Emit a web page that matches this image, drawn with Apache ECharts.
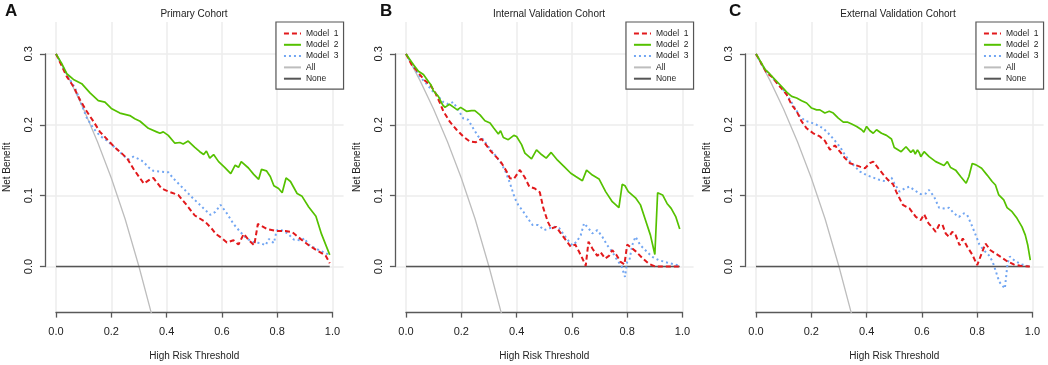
<!DOCTYPE html>
<html>
<head>
<meta charset="utf-8">
<script src="https://cdn.jsdelivr.net/npm/echarts@6/dist/echarts.min.js"></script>
<style>
  html, body { margin: 0; padding: 0; background: #fff; }
  #chart { width: 1048px; height: 365px; }
</style>
</head>
<body>
<div id="chart"></div>
<script>
// decision curves as [threshold, net benefit]
const allCurve = [[0, 0.3], [0.05, 0.263], [0.1, 0.222], [0.15, 0.176], [0.2, 0.125], [0.25, 0.067], [0.3, 0], [0.345, -0.066]]
const noneLine = [[0, 0], [0.99, 0]]

// A - primary cohort
const aModel1 = [[0, 0.3], [0.039, 0.268], [0.063, 0.254], [0.087, 0.235], [0.111, 0.219], [0.135, 0.205], [0.159, 0.19], [0.186, 0.179], [0.213, 0.168], [0.237, 0.16], [0.258, 0.152], [0.28, 0.138], [0.304, 0.1245], [0.318, 0.117], [0.34, 0.123], [0.352, 0.125], [0.382, 0.11], [0.412, 0.105], [0.442, 0.101], [0.472, 0.087], [0.502, 0.072], [0.54, 0.063], [0.564, 0.053], [0.578, 0.046], [0.6, 0.04], [0.618, 0.034], [0.642, 0.037], [0.66, 0.031], [0.679, 0.046], [0.7, 0.036], [0.717, 0.03], [0.73, 0.06], [0.763, 0.053], [0.8, 0.05], [0.83, 0.05], [0.854, 0.0486], [0.884, 0.039], [0.914, 0.03], [0.944, 0.0227], [0.975, 0.0156], [0.99, 0.0047]]
const aModel2 = [[0, 0.3], [0.02, 0.287], [0.039, 0.272], [0.063, 0.264], [0.093, 0.258], [0.123, 0.245], [0.153, 0.234], [0.177, 0.232], [0.2, 0.223], [0.231, 0.2165], [0.267, 0.213], [0.285, 0.2085], [0.304, 0.205], [0.334, 0.195], [0.364, 0.19], [0.376, 0.188], [0.388, 0.19], [0.406, 0.185], [0.43, 0.174], [0.448, 0.175], [0.46, 0.173], [0.478, 0.177], [0.502, 0.168], [0.52, 0.162], [0.534, 0.158], [0.544, 0.163], [0.556, 0.153], [0.57, 0.158], [0.588, 0.148], [0.61, 0.14], [0.632, 0.131], [0.648, 0.143], [0.66, 0.14], [0.67, 0.148], [0.696, 0.139], [0.715, 0.13], [0.733, 0.123], [0.743, 0.137], [0.761, 0.135], [0.775, 0.127], [0.788, 0.114], [0.805, 0.11], [0.818, 0.104], [0.832, 0.125], [0.848, 0.12], [0.872, 0.103], [0.89, 0.099], [0.914, 0.084], [0.94, 0.071], [0.96, 0.046], [0.99, 0.0165]]
const aModel3 = [[0, 0.3], [0.039, 0.271], [0.069, 0.252], [0.093, 0.228], [0.111, 0.21], [0.135, 0.195], [0.16, 0.184], [0.183, 0.178], [0.219, 0.166], [0.243, 0.157], [0.261, 0.151], [0.28, 0.155], [0.298, 0.152], [0.316, 0.148], [0.334, 0.14], [0.352, 0.135], [0.376, 0.134], [0.406, 0.133], [0.424, 0.1245], [0.448, 0.115], [0.472, 0.1057], [0.496, 0.096], [0.51, 0.091], [0.534, 0.082], [0.558, 0.073], [0.576, 0.077], [0.595, 0.087], [0.618, 0.075], [0.642, 0.06], [0.667, 0.0486], [0.691, 0.039], [0.715, 0.0345], [0.74, 0.033], [0.758, 0.03], [0.77, 0.039], [0.788, 0.033], [0.798, 0.051], [0.812, 0.052], [0.837, 0.047], [0.86, 0.038], [0.885, 0.037], [0.9, 0.04], [0.91, 0.032], [0.938, 0.0255], [0.974, 0.019], [0.99, 0.0165]]

// B - internal validation cohort
const bModel1 = [[0, 0.3], [0.02, 0.285], [0.039, 0.2764], [0.05, 0.2708], [0.069, 0.262], [0.087, 0.2566], [0.105, 0.246], [0.123, 0.2307], [0.135, 0.219], [0.159, 0.204], [0.183, 0.193], [0.207, 0.1835], [0.231, 0.1764], [0.253, 0.1755], [0.273, 0.18], [0.285, 0.174], [0.306, 0.163], [0.328, 0.154], [0.346, 0.1458], [0.364, 0.134], [0.376, 0.1245], [0.39, 0.1236], [0.412, 0.1363], [0.43, 0.1255], [0.446, 0.1127], [0.466, 0.11], [0.484, 0.1047], [0.497, 0.082], [0.513, 0.063], [0.525, 0.0538], [0.543, 0.056], [0.56, 0.0467], [0.578, 0.0373], [0.596, 0.028], [0.612, 0.031], [0.626, 0.0208], [0.638, 0.0113], [0.65, 0.001], [0.66, 0.035], [0.674, 0.0255], [0.692, 0.015], [0.704, 0.02], [0.72, 0.0113], [0.734, 0.015], [0.746, 0.023], [0.76, 0.017], [0.776, 0.0066], [0.79, 0.003], [0.8, 0.031], [0.818, 0.0255], [0.832, 0.021], [0.854, 0.0123], [0.878, 0.004], [0.902, 0], [0.99, 0]]
const bModel2 = [[0, 0.3], [0.0265, 0.285], [0.045, 0.2755], [0.063, 0.271], [0.081, 0.261], [0.09, 0.2566], [0.099, 0.248], [0.117, 0.24], [0.1325, 0.228], [0.141, 0.2245], [0.157, 0.229], [0.173, 0.2245], [0.1855, 0.221], [0.1976, 0.2245], [0.219, 0.219], [0.237, 0.22], [0.249, 0.22], [0.2675, 0.214], [0.2855, 0.2057], [0.304, 0.2024], [0.318, 0.195], [0.334, 0.187], [0.342, 0.1915], [0.352, 0.182], [0.37, 0.179], [0.39, 0.185], [0.4, 0.1835], [0.418, 0.172], [0.43, 0.16], [0.454, 0.152], [0.472, 0.1646], [0.49, 0.158], [0.507, 0.153], [0.525, 0.161], [0.548, 0.15], [0.572, 0.141], [0.596, 0.1316], [0.614, 0.127], [0.638, 0.121], [0.653, 0.136], [0.674, 0.129], [0.698, 0.1236], [0.722, 0.1057], [0.746, 0.0915], [0.77, 0.083], [0.782, 0.116], [0.792, 0.114], [0.804, 0.1057], [0.83, 0.097], [0.848, 0.087], [0.866, 0.0656], [0.884, 0.0443], [0.9, 0.017], [0.91, 0.104], [0.928, 0.101], [0.944, 0.089], [0.959, 0.082], [0.976, 0.07], [0.99, 0.0528]]
const bModel3 = [[0, 0.3], [0.0265, 0.2825], [0.05, 0.268], [0.075, 0.2575], [0.099, 0.246], [0.117, 0.24], [0.135, 0.232], [0.153, 0.229], [0.171, 0.232], [0.189, 0.221], [0.207, 0.209], [0.225, 0.207], [0.243, 0.195], [0.2615, 0.1835], [0.28, 0.179], [0.298, 0.169], [0.322, 0.1575], [0.34, 0.148], [0.358, 0.136], [0.376, 0.1175], [0.394, 0.096], [0.406, 0.0868], [0.424, 0.0774], [0.442, 0.067], [0.458, 0.0585], [0.478, 0.0585], [0.5, 0.0514], [0.519, 0.054], [0.536, 0.056], [0.5545, 0.054], [0.572, 0.0443], [0.59, 0.035], [0.602, 0.03], [0.617, 0.035], [0.632, 0.0443], [0.644, 0.061], [0.66, 0.054], [0.674, 0.0467], [0.692, 0.0514], [0.71, 0.042], [0.728, 0.03], [0.746, 0.0208], [0.764, 0.009], [0.78, 0], [0.792, -0.0146], [0.8, 0.0066], [0.808, 0.009], [0.818, 0.03], [0.83, 0.042], [0.848, 0.03], [0.866, 0.023], [0.89, 0.0137], [0.914, 0.009], [0.944, 0.0057], [0.99, 0.001]]

// C - external validation cohort
const cModel1 = [[0, 0.3], [0.02, 0.286], [0.039, 0.273], [0.057, 0.268], [0.075, 0.259], [0.093, 0.251], [0.111, 0.2425], [0.129, 0.228], [0.147, 0.219], [0.165, 0.2047], [0.183, 0.195], [0.207, 0.188], [0.231, 0.1835], [0.249, 0.1774], [0.2675, 0.1646], [0.2855, 0.1708], [0.3036, 0.162], [0.3217, 0.153], [0.34, 0.1458], [0.358, 0.1434], [0.376, 0.141], [0.394, 0.1387], [0.412, 0.1458], [0.424, 0.148], [0.442, 0.1387], [0.46, 0.13], [0.478, 0.122], [0.496, 0.116], [0.507, 0.1057], [0.531, 0.087], [0.555, 0.082], [0.578, 0.07], [0.596, 0.0656], [0.608, 0.0736], [0.624, 0.061], [0.64, 0.054], [0.65, 0.049], [0.662, 0.0585], [0.674, 0.0594], [0.686, 0.0467], [0.698, 0.042], [0.71, 0.049], [0.722, 0.0443], [0.736, 0.03], [0.748, 0.0396], [0.764, 0.0278], [0.782, 0.017], [0.8, 0.002], [0.816, 0.0184], [0.83, 0.0325], [0.848, 0.023], [0.866, 0.0184], [0.89, 0.0123], [0.908, 0.0075], [0.932, 0.003], [0.956, 0.001], [0.99, 0]]
const cModel2 = [[0, 0.3], [0.02, 0.287], [0.0325, 0.278], [0.05, 0.2717], [0.0687, 0.2637], [0.0928, 0.254], [0.111, 0.246], [0.129, 0.24], [0.147, 0.2377], [0.165, 0.234], [0.183, 0.2307], [0.201, 0.2236], [0.219, 0.221], [0.231, 0.221], [0.249, 0.2165], [0.265, 0.219], [0.2795, 0.2165], [0.2976, 0.2094], [0.3157, 0.2038], [0.33, 0.2038], [0.346, 0.201], [0.364, 0.1976], [0.382, 0.193], [0.39, 0.1896], [0.4, 0.1976], [0.412, 0.1915], [0.424, 0.188], [0.436, 0.193], [0.454, 0.188], [0.472, 0.185], [0.49, 0.18], [0.5, 0.168], [0.525, 0.162], [0.5425, 0.169], [0.56, 0.161], [0.569, 0.1646], [0.576, 0.1585], [0.584, 0.1646], [0.59, 0.161], [0.596, 0.155], [0.608, 0.162], [0.626, 0.155], [0.65, 0.148], [0.68, 0.1425], [0.692, 0.148], [0.704, 0.1396], [0.722, 0.136], [0.74, 0.127], [0.76, 0.1175], [0.77, 0.127], [0.782, 0.1453], [0.796, 0.1434], [0.816, 0.1387], [0.836, 0.129], [0.854, 0.12], [0.866, 0.115], [0.878, 0.101], [0.896, 0.094], [0.908, 0.083], [0.926, 0.0774], [0.944, 0.068], [0.962, 0.056], [0.974, 0.0443], [0.983, 0.03], [0.992, 0.009]]
const cModel3 = [[0, 0.3], [0.02, 0.285], [0.039, 0.2755], [0.063, 0.265], [0.087, 0.254], [0.105, 0.247], [0.123, 0.2354], [0.141, 0.2236], [0.159, 0.2118], [0.177, 0.2057], [0.195, 0.2038], [0.219, 0.2], [0.243, 0.195], [0.2615, 0.188], [0.28, 0.18], [0.3036, 0.169], [0.3217, 0.1575], [0.34, 0.148], [0.358, 0.141], [0.376, 0.134], [0.4, 0.129], [0.424, 0.1255], [0.448, 0.122], [0.472, 0.12], [0.49, 0.1255], [0.5, 0.1175], [0.519, 0.1057], [0.537, 0.11], [0.555, 0.1127], [0.572, 0.108], [0.596, 0.102], [0.614, 0.103], [0.626, 0.108], [0.644, 0.0986], [0.662, 0.083], [0.68, 0.082], [0.698, 0.083], [0.716, 0.075], [0.734, 0.07], [0.752, 0.075], [0.764, 0.0726], [0.78, 0.0585], [0.794, 0.045], [0.808, 0.031], [0.824, 0.023], [0.842, 0.016], [0.856, 0.0066], [0.866, -0.0052], [0.88, -0.0217], [0.9, -0.031], [0.91, 0.005], [0.918, 0.014], [0.938, 0.0075], [0.962, 0.003], [0.99, 0]]

const xTicks = [0, 0.2, 0.4, 0.6, 0.8, 1.0]
const yTicks = [0, 0.1, 0.2, 0.3]
const panelTitles = ['Primary Cohort', 'Internal Validation Cohort', 'External Validation Cohort']
const panelLetters = ['A', 'B', 'C']
const seriesNames = ['Model  1', 'Model  2', 'Model  3', 'All', 'None']

const panelData = [
  [aModel1, aModel2, aModel3],
  [bModel1, bModel2, bModel3],
  [cModel1, cModel2, cModel3]
]

const FONT = '"Liberation Sans", Arial, Helvetica, sans-serif'
const AXIS_COLOR = '#595959'

// pixel layout (plot region spans x -0.04..1.04, y -0.065..0.345 like R)
const zeroX = [56, 406, 756]
const unitX = 276.5
const regionTop = 22
const regionH = 290.6
const xMin = -0.04, xMax = 1.04, yMin = -0.065, yMax = 0.345
const regionW = unitX * (xMax - xMin)
const yPx = v => regionTop + regionH * (yMax - v) / (yMax - yMin)
const titleX = [194, 549, 898]
const letterX = [5, 380, 729]

const styles = [
  { color: '#e2191c', width: 2, type: [5, 3] },
  { color: '#55c100', width: 1.7, type: 'solid' },
  { color: '#72a6f2', width: 2, type: [2, 3] },
  { color: '#bdbdbd', width: 1.3, type: 'solid' },
  { color: '#555555', width: 1.5, type: 'solid' }
]

const grid = [], xAxis = [], yAxis = [], series = [], legend = [], graphic = []

panelData.forEach((models, p) => {
  const left = zeroX[p] + xMin * unitX
  // main plotting grid with light grid lines
  grid.push({ left: left, top: regionTop, width: regionW, height: regionH, outerBoundsMode: 'none', containLabel: false })
  xAxis.push({
    type: 'value', gridIndex: p, min: xMin, max: xMax,
    axisLine: { show: false },
    axisTick: { show: false, customValues: xTicks },
    axisLabel: { show: false },
    splitLine: { show: true, lineStyle: { color: '#ededed', width: 1.5 } }
  })
  yAxis.push({
    type: 'value', gridIndex: p, min: yMin, max: yMax,
    name: 'Net Benefit', nameLocation: 'middle', nameGap: 33,
    nameTextStyle: { fontSize: 10, color: '#222', fontFamily: FONT },
    axisLine: { show: false },
    axisTick: { show: false, customValues: yTicks },
    axisLabel: { show: false },
    splitLine: { show: true, lineStyle: { color: '#ededed', width: 1.5 } }
  })

  const lines = [models[0], models[1], models[2], allCurve, noneLine]
  const order = [3, 4, 2, 0, 1]
  order.forEach(k => {
    const s = styles[k]
    series.push({
      name: seriesNames[k], type: 'line', xAxisIndex: p, yAxisIndex: p,
      data: lines[k], symbol: 'none', showSymbol: false, silent: true,
      color: s.color,
      lineStyle: { color: s.color, width: s.width, type: s.type },
      z: 2 + order.indexOf(k)
    })
  })

  legend.push({
    orient: 'vertical', right: 1048 - (left + regionW), top: regionTop,
    itemWidth: 17, itemHeight: 9, itemGap: 2.3,
    padding: [7, 5, 6, 7],
    borderColor: '#555', borderWidth: 1.2, backgroundColor: '#fff',
    selectedMode: false,
    itemStyle: { opacity: 0, borderWidth: 0 },
    textStyle: { fontSize: 8.5, lineHeight: 9, color: '#222', fontFamily: FONT },
    data: seriesNames
  })

  graphic.push({
    type: 'text', x: titleX[p], y: 14,
    style: { text: panelTitles[p], font: '10px ' + FONT, fill: '#222', textAlign: 'center', textVerticalAlign: 'middle' }
  })
  graphic.push({
    type: 'text', x: letterX[p], y: 11,
    style: { text: panelLetters[p], font: 'bold 17px ' + FONT, fill: '#111', textVerticalAlign: 'middle' }
  })
})

// axis grids: x from 0 to 1 and y from 0 to 0.3, drawn at the region edges like R
panelData.forEach((models, p) => {
  const gi = grid.length
  grid.push({ left: zeroX[p], top: yPx(0.3), width: unitX, height: yPx(0) - yPx(0.3), outerBoundsMode: 'none', containLabel: false })
  xAxis.push({
    type: 'value', gridIndex: gi, min: 0, max: 1, interval: 0.2,
    offset: regionTop + regionH - yPx(0),
    name: 'High Risk Threshold', nameLocation: 'middle', nameGap: 39,
    nameTextStyle: { fontSize: 10, color: '#222', fontFamily: FONT },
    axisLine: { show: true, onZero: false, lineStyle: { color: AXIS_COLOR, width: 1.3 } },
    axisTick: { show: true, length: 5, lineStyle: { color: AXIS_COLOR, width: 1.3 } },
    axisLabel: { margin: 14, fontSize: 11, color: '#222', fontFamily: FONT, formatter: v => v.toFixed(1) },
    splitLine: { show: false }
  })
  yAxis.push({
    type: 'value', gridIndex: gi, min: 0, max: 0.3, interval: 0.1,
    offset: -xMin * unitX,
    axisLine: { show: true, onZero: false, lineStyle: { color: AXIS_COLOR, width: 1.3 } },
    axisTick: { show: true, length: 5, lineStyle: { color: AXIS_COLOR, width: 1.3 } },
    axisLabel: { margin: 10, rotate: 90, fontSize: 11, color: '#222', fontFamily: FONT, formatter: v => v.toFixed(1) },
    splitLine: { show: false }
  })
})

const chart = echarts.init(document.getElementById('chart'), null, { renderer: 'canvas' })
chart.setOption({
  animation: false,
  backgroundColor: '#fff',
  textStyle: { fontFamily: FONT },
  grid, xAxis, yAxis, series, legend, graphic
})
</script>
</body>
</html>
